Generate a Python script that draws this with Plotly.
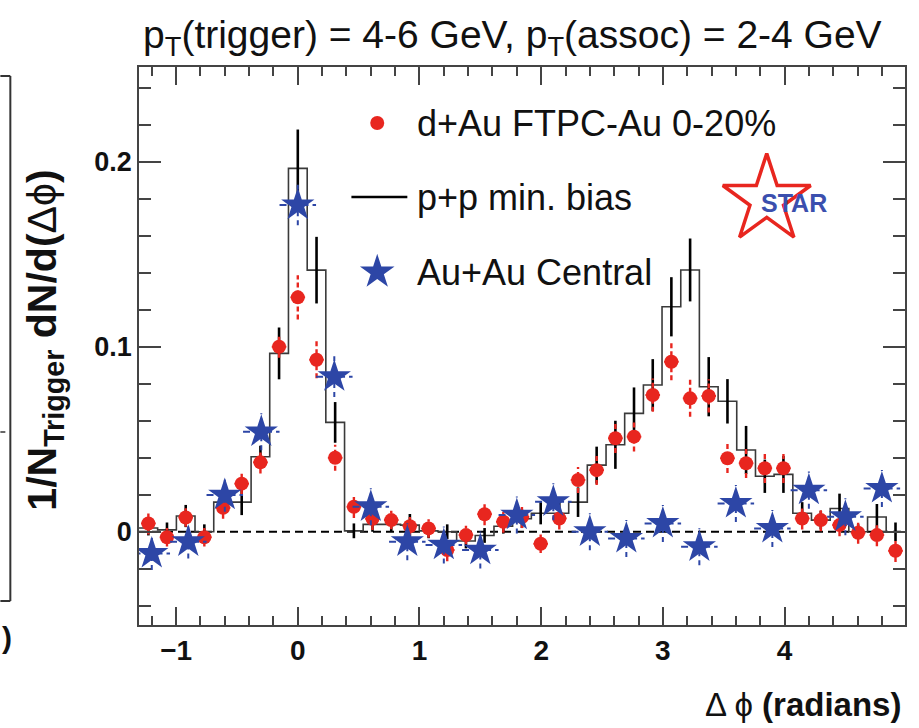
import plotly.graph_objects as go

# ---------------- data ----------------
dphi_fine = [-1.228, -1.075, -0.921, -0.768, -0.614, -0.461, -0.307, -0.154, 0.0, 0.154,
             0.307, 0.461, 0.614, 0.768, 0.921, 1.075, 1.228, 1.382, 1.535, 1.689,
             1.842, 1.996, 2.149, 2.303, 2.456, 2.610, 2.763, 2.917, 3.070, 3.224,
             3.377, 3.531, 3.684, 3.838, 3.991, 4.145, 4.298, 4.452, 4.605, 4.759, 4.912]
bin_width = 0.1535

dau_vals = [0.0045, -0.003, 0.0077, -0.003, 0.013, 0.026, 0.0375, 0.100, 0.1267, 0.093,
            0.040, 0.0135, 0.007, 0.0063, 0.003, 0.0018, -0.0099, -0.0018, 0.0095, 0.0054,
            0.008, -0.0065, 0.0072, 0.028, 0.0333, 0.0505, 0.0514, 0.0739, 0.0919, 0.0721,
            0.0734, 0.0397, 0.037, 0.0343, 0.0343, 0.0072, 0.0063, 0.0036, -0.0005, -0.0018, -0.0103]
dau_err = [0.006, 0.005, 0.005, 0.005, 0.006, 0.006, 0.006, 0.006, 0.012, 0.010,
           0.007, 0.006, 0.006, 0.005, 0.005, 0.005, 0.006, 0.005, 0.006, 0.006,
           0.006, 0.005, 0.006, 0.007, 0.008, 0.008, 0.008, 0.009, 0.010, 0.010,
           0.009, 0.008, 0.008, 0.008, 0.008, 0.006, 0.006, 0.006, 0.006, 0.006, 0.006]
dau_xerr = 0.06

pp_vals = [0.002, 0.001, 0.0085, 0.000, 0.016, 0.016, 0.0405, 0.0964, 0.1964, 0.1414,
           0.0591, 0.0005, 0.004, 0.004, 0.0036, 0.0005, 0.000, -0.005, -0.002, 0.003,
           0.007, 0.010, 0.010, 0.016, 0.036, 0.047, 0.064, 0.0793, 0.1216, 0.1415,
           0.0784, 0.0705, 0.0442, 0.030, 0.031, 0.010, 0.0063, 0.0126, 0.000, 0.008, 0.000]
pp_err = [0.004, 0.004, 0.006, 0.004, 0.006, 0.007, 0.006, 0.014, 0.021, 0.018,
          0.011, 0.004, 0.004, 0.004, 0.006, 0.004, 0.004, 0.004, 0.004, 0.004,
          0.005, 0.006, 0.006, 0.008, 0.010, 0.013, 0.014, 0.014, 0.016, 0.017,
          0.016, 0.012, 0.013, 0.009, 0.010, 0.006, 0.005, 0.008, 0.004, 0.007, 0.005]

dphi_auau = [-1.2, -0.9, -0.6, -0.3, 0.0, 0.3, 0.6, 0.9, 1.2, 1.5, 1.8, 2.1, 2.4, 2.7,
             3.0, 3.3, 3.6, 3.9, 4.2, 4.5, 4.8]
auau_vals = [-0.0117, -0.0054, 0.0198, 0.054, 0.1766, 0.0838, 0.0135, -0.0054, -0.0072, -0.0099,
             0.009, 0.0162, 0.000, -0.0036, 0.0045, -0.0081, 0.0153, 0.0018, 0.0225, 0.0081, 0.0234]
auau_err = [0.009, 0.009, 0.009, 0.010, 0.011, 0.011, 0.010, 0.010, 0.010, 0.010,
            0.010, 0.010, 0.010, 0.010, 0.010, 0.010, 0.010, 0.010, 0.010, 0.010, 0.010]
auau_xerr = 0.15

x_ticks = [-1, 0, 1, 2, 3, 4]
y_ticks = [0, 0.1, 0.2]
y_ticklabels = ["0", "0.1", "0.2"]

RED = "#e8261f"
BLUE = "#2d46a6"
FONT = "Liberation Sans"


def err_segments(xs, ys, ex, ey):
    hx, hy, vx, vy = [], [], [], []
    for x, y, e in zip(xs, ys, ey):
        hx += [x - ex, x + ex, None]
        hy += [y, y, None]
        vx += [x, x, None]
        vy += [y - e, y + e, None]
    return hx, hy, vx, vy


fig = go.Figure()

# p+p histogram (step outline)
edges = [x - bin_width / 2 for x in dphi_fine] + [dphi_fine[-1] + bin_width / 2]
steps = pp_vals + [pp_vals[-1]]
fig.add_trace(go.Scatter(x=edges, y=steps, mode="lines", line_shape="hv",
                         line=dict(color="#3a3a3a", width=1.6), showlegend=False,
                         hoverinfo="skip"))
fig.add_trace(go.Scatter(x=dphi_fine, y=pp_vals, mode="markers",
                         marker=dict(size=1, color="rgba(0,0,0,0)"),
                         error_y=dict(type="data", array=pp_err, color="black",
                                      thickness=2.6, width=0),
                         showlegend=False))

# d+Au error bars (dashed) and markers
hx, hy, vx, vy = err_segments(dphi_fine, dau_vals, dau_xerr, dau_err)
fig.add_trace(go.Scatter(x=hx, y=hy, mode="lines", line=dict(color=RED, width=2),
                         showlegend=False, hoverinfo="skip"))
fig.add_trace(go.Scatter(x=vx, y=vy, mode="lines",
                         line=dict(color=RED, width=2.4, dash="5px,3px"),
                         showlegend=False, hoverinfo="skip"))
fig.add_trace(go.Scatter(x=dphi_fine, y=dau_vals, mode="markers",
                         marker=dict(symbol="circle", size=14, color=RED),
                         name="d+Au FTPC-Au 0-20%", showlegend=False))

# Au+Au error bars (dashed) and markers
hx, hy, vx, vy = err_segments(dphi_auau, auau_vals, auau_xerr, auau_err)
fig.add_trace(go.Scatter(x=hx, y=hy, mode="lines",
                         line=dict(color=BLUE, width=2, dash="7px,4px"),
                         showlegend=False, hoverinfo="skip"))
fig.add_trace(go.Scatter(x=vx, y=vy, mode="lines",
                         line=dict(color=BLUE, width=2, dash="5px,4px"),
                         showlegend=False, hoverinfo="skip"))
fig.add_trace(go.Scatter(x=dphi_auau, y=auau_vals, mode="markers",
                         marker=dict(symbol="star", size=25, color=BLUE),
                         name="Au+Au Central", showlegend=False))

# ---------------- legend & logo on an overlay (paper-like) axis ----------------
fig.add_trace(go.Scatter(x=[0.311], y=[0.8996], xaxis="x2", yaxis="y2", mode="markers",
                         marker=dict(symbol="circle", size=14, color=RED),
                         showlegend=False, hoverinfo="skip", cliponaxis=False))
fig.add_trace(go.Scatter(x=[0.2773, 0.3503], y=[0.767, 0.767], xaxis="x2", yaxis="y2",
                         mode="lines", line=dict(color="black", width=2.5),
                         showlegend=False, hoverinfo="skip", cliponaxis=False))
fig.add_trace(go.Scatter(x=[0.311], y=[0.6326], xaxis="x2", yaxis="y2", mode="markers",
                         marker=dict(symbol="star", size=26, color=BLUE),
                         showlegend=False, hoverinfo="skip", cliponaxis=False))
fig.add_trace(go.Scatter(x=[0.8195], y=[0.762], xaxis="x2", yaxis="y2", mode="markers",
                         marker=dict(symbol="star-open", size=66, color=RED,
                                     line=dict(color=RED, width=3.5)),
                         showlegend=False, hoverinfo="skip", cliponaxis=False))

legend_texts = ["d+Au FTPC-Au 0-20%", "p+p min. bias", "Au+Au Central"]
legend_y = [0.8996, 0.767, 0.6326]

annotations = []
for t, yy in zip(legend_texts, legend_y):
    annotations.append(dict(text=t, xref="paper", yref="paper", x=0.3607, y=yy,
                            xanchor="left", yanchor="middle", showarrow=False,
                            font=dict(family=FONT, size=36, color="#111")))
annotations.append(dict(text="STAR", xref="paper", yref="paper", x=0.8545, y=0.757,
                        xanchor="center", yanchor="middle", showarrow=False,
                        font=dict(family=FONT, size=25, color="#3b4fae", weight="bold")))
annotations.append(dict(text="p<sub>T</sub>(trigger) = 4-6 GeV, p<sub>T</sub>(assoc) = 2-4 GeV",
                        xref="paper", yref="paper", x=0.488, y=1.052,
                        xanchor="center", yanchor="middle", showarrow=False,
                        font=dict(family=FONT, size=39, color="#111")))
annotations.append(dict(text="<b>1/N<sub>Trigger</sub> dN/d(</b>\u0394\u03d5<b>)</b>",
                        xref="paper", yref="paper", x=-0.1224, y=0.51,
                        xanchor="center", yanchor="middle", textangle=-90, showarrow=False,
                        font=dict(family=FONT, size=41, color="#111")))
annotations.append(dict(text="\u0394 \u03d5 <b>(radians)</b>", xref="paper", yref="paper",
                        x=0.997, y=-0.143, xanchor="right", yanchor="middle", showarrow=False,
                        font=dict(family=FONT, size=33, color="#111")))
annotations.append(dict(text=")", xref="paper", yref="paper", x=-0.172, y=-0.022,
                        xanchor="center", yanchor="middle", showarrow=False,
                        font=dict(family=FONT, size=30, color="#111", weight="bold")))


# partial frame at the left edge (neighbouring panel)
def px_x(p):
    return (p - 139) / 768.0


def px_y(p):
    return (625 - p) / 558.0


shapes = [
    dict(type="line", xref="paper", yref="y", x0=0, x1=1, y0=0, y1=0,
         line=dict(color="black", width=2, dash="8px,5px"), layer="below"),
    dict(type="line", xref="paper", yref="paper", x0=px_x(0), x1=px_x(10),
         y0=px_y(76), y1=px_y(76), line=dict(color="#333", width=2)),
    dict(type="line", xref="paper", yref="paper", x0=px_x(10), x1=px_x(10),
         y0=px_y(76), y1=px_y(601), line=dict(color="#333", width=2)),
    dict(type="line", xref="paper", yref="paper", x0=px_x(0), x1=px_x(10),
         y0=px_y(601), y1=px_y(601), line=dict(color="#333", width=2)),
    dict(type="line", xref="paper", yref="paper", x0=px_x(0), x1=px_x(5),
         y0=px_y(432), y1=px_y(432), line=dict(color="#333", width=1.5)),
]

axis_common = dict(showline=True, linecolor="#444", linewidth=1.5, mirror="allticks",
                   ticks="inside", tickcolor="#444", tickwidth=1.5, showgrid=False,
                   zeroline=False)

fig.update_layout(
    width=919, height=728,
    margin=dict(l=139, r=12, t=67, b=103),
    paper_bgcolor="white", plot_bgcolor="white",
    showlegend=False,
    xaxis=dict(range=[-1.305, 4.99], tickvals=x_ticks, ticklen=18,
               minor=dict(dtick=0.2, tick0=0, ticks="inside", ticklen=9,
                          tickcolor="#444", tickwidth=1.5),
               tickfont=dict(family=FONT, size=28, color="#111", weight="bold"),
               **axis_common),
    yaxis=dict(range=[-0.0504, 0.2512], tickvals=y_ticks, ticktext=y_ticklabels,
               ticklen=22,
               minor=dict(dtick=0.02, tick0=0, ticks="inside", ticklen=12,
                          tickcolor="#444", tickwidth=1.5),
               tickfont=dict(family=FONT, size=27, color="#111", weight="bold"),
               **axis_common),
    xaxis2=dict(overlaying="x", range=[0, 1], visible=False),
    yaxis2=dict(overlaying="y", range=[0, 1], visible=False),
    annotations=annotations,
    shapes=shapes,
)

fig.write_html("out.html")
